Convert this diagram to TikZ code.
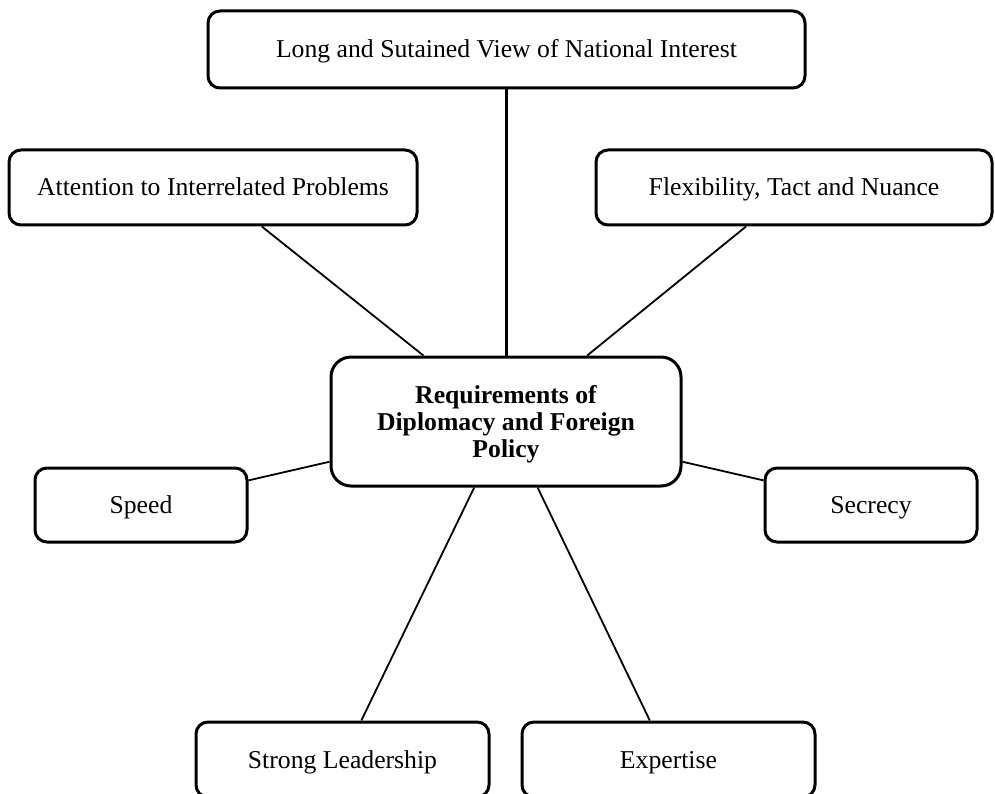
\documentclass[tikz,border=0pt]{standalone}
\usepackage{fontspec}
\setmainfont{Liberation Serif}
\begin{document}
\begin{tikzpicture}[x=1pt,y=-1pt,
  box/.style={draw, line width=3pt, rounded corners=12pt, fill=white, inner sep=0pt,
    text height=20pt, text depth=3pt,
    font=\fontsize{25.7}{26.5}\selectfont},
  hub/.style={draw, line width=3pt, rounded corners=20pt, fill=white, inner sep=0pt},
  hubtext/.style={inner sep=0pt, font=\fontsize{25.7}{27}\selectfont\bfseries, align=center},
  link/.style={line width=1.8pt},
  trunk/.style={line width=3pt}]
\useasboundingbox (0,0) rectangle (995,794);
\clip (0,0) rectangle (995,794);
\node[hub, minimum width=350pt, minimum height=129pt,
  label={[hubtext, yshift=-3pt]center:{Requirements of\\Diplomacy and Foreign\\Policy}}] (c) at (506,421.5) {};
\node[box, minimum width=597pt, minimum height=77pt] (top) at (506.5,49.5)
  {Long and Sutained View of National Interest};
\node[box, minimum width=408pt, minimum height=75pt] (att) at (213,187.5)
  {Attention to Interrelated Problems};
\node[box, minimum width=396pt, minimum height=75pt] (flex) at (794,187.5)
  {Flexibility, Tact and Nuance};
\node[box, minimum width=212pt, minimum height=74pt] (speed) at (141,505) {Speed};
\node[box, minimum width=212pt, minimum height=74pt] (sec) at (871,505) {Secrecy};
\node[box, minimum width=293pt, minimum height=75pt] (lead) at (342.5,759.5) {Strong Leadership};
\node[box, minimum width=293pt, minimum height=75pt] (exp) at (668.5,759.5) {Expertise};
\draw[trunk] (top.south -| c.north) -- (c.north);
\draw[link] (att) -- (c);
\draw[link] (flex) -- (c);
\draw[link] (speed) -- (c);
\draw[link] (sec) -- (c);
\draw[link] (lead) -- (c);
\draw[link] (exp) -- (c);
\end{tikzpicture}
\end{document}
